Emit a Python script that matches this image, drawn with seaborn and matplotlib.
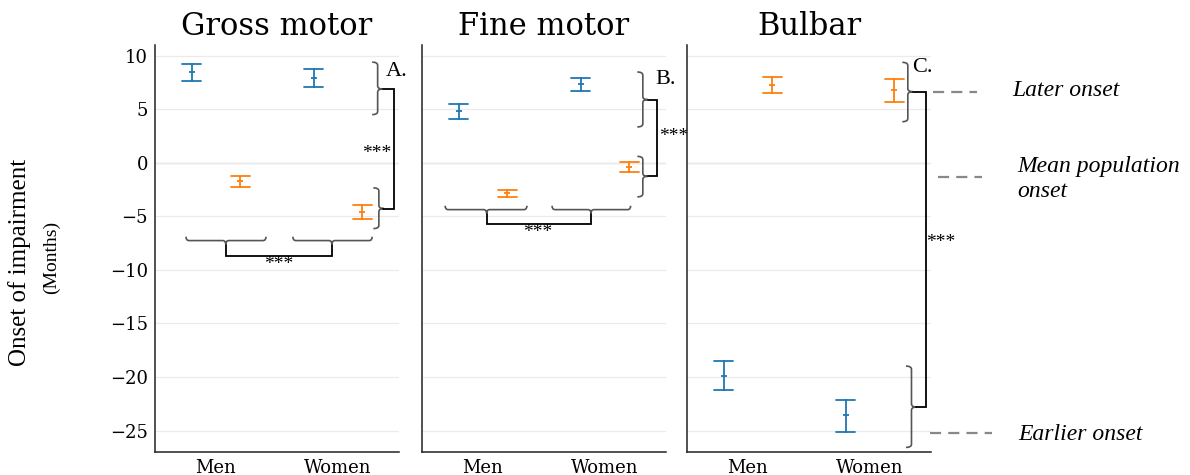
import numpy as np
import pandas as pd
import matplotlib
matplotlib.use("Agg")
import matplotlib.pyplot as plt
from matplotlib.path import Path
from matplotlib.patches import PathPatch
from matplotlib.lines import Line2D
import seaborn as sns

# ---------------- data ----------------
panels = ["Gross motor", "Fine motor", "Bulbar"]
sexes = ["Men", "Women"]
groups = ["Group 1", "Group 2"]

# group 1 (blue): [Men, Women] per panel
g1_mean = [[8.45, 7.88], [4.82, 7.33], [-19.86, -23.58]]
g1_low = [[7.67, 7.11], [4.10, 6.74], [-21.25, -25.13]]
g1_high = [[9.20, 8.76], [5.47, 7.92], [-18.49, -22.19]]
# group 2 (orange)
g2_mean = [[-1.73, -4.62], [-2.85, -0.40], [7.24, 6.80]]
g2_low = [[-2.23, -5.27], [-3.19, -0.90], [6.49, 5.72]]
g2_high = [[-1.24, -3.97], [-2.51, 0.10], [7.98, 7.86]]

yticks = [10, 5, 0, -5, -10, -15, -20, -25]
panel_letters = ["A.", "B.", "C."]
side_labels = ["Later onset", "Mean population\nonset", "Earlier onset"]

rows = []
for p, panel in enumerate(panels):
    for s, sex in enumerate(sexes):
        for g, (mn, lo, hi) in enumerate([(g1_mean, g1_low, g1_high),
                                          (g2_mean, g2_low, g2_high)]):
            for v in (lo[p][s], mn[p][s], hi[p][s]):
                rows.append({"panel": panel, "sex": sex, "group": groups[g], "value": v})
df = pd.DataFrame(rows)

# ---------------- style ----------------
sns.set_theme(style="white")
plt.rcParams["font.family"] = ["DejaVu Serif", "DejaVu Sans"]
for k in ("text.color", "axes.labelcolor", "xtick.color", "ytick.color"):
    plt.rcParams[k] = "black"
palette = {"Group 1": "#1f77b4", "Group 2": "#ff7f0e"}
times = ["Liberation Serif", "DejaVu Serif"]
brace_col = "#555555"

fig = plt.figure(figsize=(11.9, 4.75), dpi=100)
W, H = 1190, 475
lefts = [155, 422, 687]
ax_w = 244
ax_top, ax_bot = 45, 452
axes = []
for i, l in enumerate(lefts):
    ax = fig.add_axes([l / W, 1 - ax_bot / H, ax_w / W, (ax_bot - ax_top) / H],
                      sharey=axes[0] if axes else None)
    axes.append(ax)


def vbrace(ax, xv, ytop, ybot, ymid, hook=0.045, tip=0.04, ry=0.3):
    verts = [(xv - hook, ytop), (xv, ytop), (xv, ytop - ry),
             (xv, ymid + ry), (xv, ymid), (xv + tip, ymid),
             (xv, ymid), (xv, ymid - ry),
             (xv, ybot + ry), (xv, ybot), (xv - hook, ybot)]
    codes = [Path.MOVETO, Path.CURVE3, Path.CURVE3,
             Path.LINETO, Path.CURVE3, Path.CURVE3,
             Path.CURVE3, Path.CURVE3,
             Path.LINETO, Path.CURVE3, Path.CURVE3]
    ax.add_patch(PathPatch(Path(verts, codes), fill=False, ec=brace_col, lw=1.2,
                           clip_on=False))


def hbrace(ax, x0, x1, yh, xmid, hook=0.36, tip=0.36, rx=0.025):
    verts = [(x0, yh + hook), (x0, yh), (x0 + rx, yh),
             (xmid - rx, yh), (xmid, yh), (xmid, yh - tip),
             (xmid, yh), (xmid + rx, yh),
             (x1 - rx, yh), (x1, yh), (x1, yh + hook)]
    codes = [Path.MOVETO, Path.CURVE3, Path.CURVE3,
             Path.LINETO, Path.CURVE3, Path.CURVE3,
             Path.CURVE3, Path.CURVE3,
             Path.LINETO, Path.CURVE3, Path.CURVE3]
    ax.add_patch(PathPatch(Path(verts, codes), fill=False, ec=brace_col, lw=1.2,
                           clip_on=False))


def line(ax, xs, ys, color="black", lw=1.3):
    ax.add_line(Line2D(xs, ys, color=color, lw=lw, clip_on=False,
                       solid_joinstyle="miter"))


for p, ax in enumerate(axes):
    sub = df[df["panel"] == panels[p]]
    sns.pointplot(data=sub, x="sex", y="value", hue="group", order=sexes,
                  hue_order=groups, palette=palette, estimator="median",
                  errorbar=("pi", 100), dodge=0.4, linestyle="none",
                  marker="_", markersize=5, markeredgewidth=1.3,
                  capsize=0.16, err_kws={"linewidth": 1.3},
                  legend=False, ax=ax)
    ax.set_xlim(-0.5, 1.5)
    ax.set_ylim(-27, 11)
    ax.set_yticks(yticks)
    ax.set_xlabel("")
    ax.set_ylabel("")
    ax.set_title(panels[p], fontsize=22, pad=7, family=["DejaVu Serif"], color="black")
    ax.grid(axis="y", color="#ebebeb", lw=0.9)
    ax.set_axisbelow(True)
    ax.axhline(0, color="#d9d9d9", lw=1.0, zorder=0)
    for side in ("top", "right"):
        ax.spines[side].set_visible(False)
    for side in ("left", "bottom"):
        ax.spines[side].set_color("#222222")
        ax.spines[side].set_linewidth(1.1)
    ax.tick_params(axis="both", direction="in", length=5, width=1.1,
                   color="#222222", labelcolor="black", labelsize=13, pad=5)
    if p > 0:
        ax.tick_params(axis="y", labelleft=False)

# ---------------- annotations ----------------
star_fs = 14
let_fs = 16
# Panel A
ax = axes[0]
vbrace(ax, 1.325, 9.4, 4.5, 6.89)
vbrace(ax, 1.335, -2.34, -6.14, -4.27)
line(ax, [1.37, 1.46, 1.46, 1.37], [6.89, 6.89, -4.27, -4.27])
ax.text(1.32, 0.86, "***", ha="center", va="center", fontsize=star_fs, family=times)
ax.text(1.39, 8.5, panel_letters[0], ha="left", va="center", fontsize=let_fs, family=times)
hbrace(ax, -0.246, 0.41, -7.26, 0.08)
hbrace(ax, 0.63, 1.28, -7.26, 0.95)
line(ax, [0.08, 0.08, 0.95, 0.95], [-7.64, -8.66, -8.66, -7.64])
ax.text(0.51, -9.5, "***", ha="center", va="center", fontsize=star_fs, family=times)

# Panel B
ax = axes[1]
vbrace(ax, 1.31, 8.48, 3.35, 5.9)
vbrace(ax, 1.31, 0.60, -3.18, -1.26)
line(ax, [1.35, 1.426, 1.426, 1.35], [5.9, 5.9, -1.26, -1.26])
ax.text(1.56, 2.44, "***", ha="center", va="center", fontsize=star_fs, family=times)
ax.text(1.41, 7.76, panel_letters[1], ha="left", va="center", fontsize=let_fs, family=times)
hbrace(ax, -0.31, 0.36, -4.37, 0.03)
hbrace(ax, 0.566, 1.21, -4.37, 0.885)
line(ax, [0.03, 0.03, 0.885, 0.885], [-4.75, -5.67, -5.67, -4.75])
ax.text(0.45, -6.5, "***", ha="center", va="center", fontsize=star_fs, family=times)

# Panel C
ax = axes[2]
vbrace(ax, 1.31, 9.38, 3.84, 6.64)
vbrace(ax, 1.34, -18.98, -26.57, -22.8)
line(ax, [1.35, 1.457, 1.457, 1.38], [6.64, 6.64, -22.8, -22.8])
ax.text(1.58, -7.44, "***", ha="center", va="center", fontsize=star_fs, family=times)
ax.text(1.345, 8.87, panel_letters[2], ha="left", va="center", fontsize=let_fs, family=times)

# side legend (dashed guides + italic labels), figure pixel positions
guides = [(933, 977, 92), (938, 982, 176.7), (930, 992, 433)]
label_pos = [(1012, 90), (1017, 179), (1018, 434)]
for (x0, x1, y), (tx, ty), lab in zip(guides, label_pos, side_labels):
    fig.add_artist(Line2D([x0 / W, x1 / W], [1 - y / H, 1 - y / H],
                          transform=fig.transFigure, color="#888888", lw=1.6,
                          dashes=(5, 3.2)))
    fig.text(tx / W, 1 - ty / H, lab, ha="left", va="center", fontsize=17,
             style="italic", family=times, linespacing=1.2)

# y label
fig.text(20 / W, 1 - 262 / H, "Onset of impairment", rotation=90, ha="center",
         va="center", fontsize=18, family=times)
fig.text(51 / W, 1 - 257.5 / H, "(Months)", rotation=90, ha="center",
         va="center", fontsize=14, family=times)

fig.savefig("out.png", dpi=100)
